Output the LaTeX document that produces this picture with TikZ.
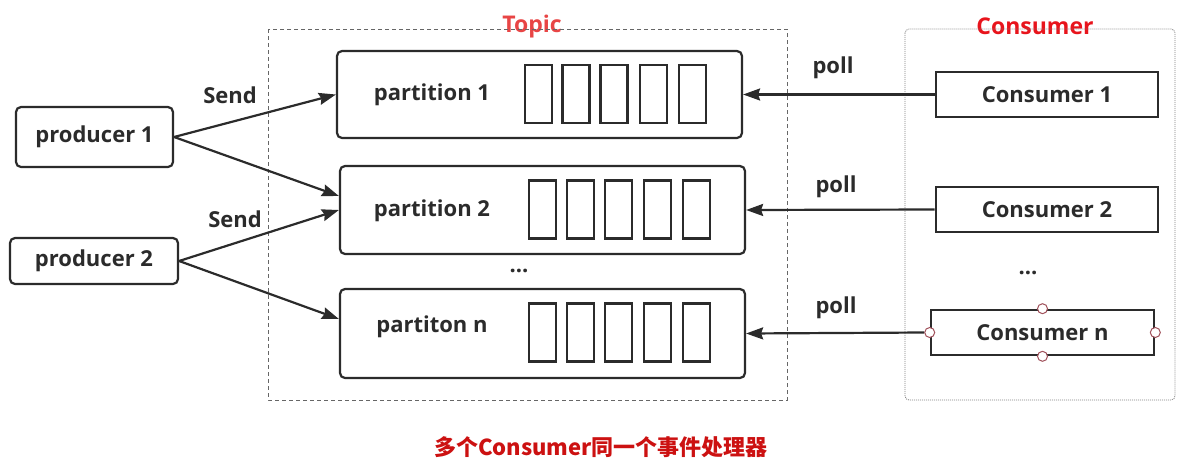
\documentclass[tikz,border=0pt]{standalone}
\usepackage{fontspec}
\setmainfont{Open Sans}
\newfontfamily\cjk{Noto Sans CJK SC}
\usetikzlibrary{arrows.meta}
\definecolor{ink}{HTML}{2B2B2B}
\definecolor{topicred}{HTML}{E84545}
\definecolor{consred}{HTML}{E8141C}
\definecolor{capred}{HTML}{CC1111}
\definecolor{handle}{HTML}{A0505A}
\tikzset{
  txt/.style={font=\bfseries\fontsize{22}{26}\selectfont, text=ink, inner sep=0pt},
  rbox/.style={draw=ink, line width=2.2pt, rounded corners=5pt, fill=white},
  cbox/.style={draw=ink, line width=2.6pt, fill=white},
  slot/.style={draw=ink, line width=2.2pt, minimum width=27pt, minimum height=58pt, inner sep=0pt},
  arr/.style={draw=ink, line width=2.2pt, -{Stealth[length=17pt,width=12pt,inset=2pt]}},
  hnd/.style={circle, draw=handle, fill=white, line width=1pt, minimum size=10pt, inner sep=0pt},
  title/.style={font=\bfseries\fontsize{23}{26}\selectfont, inner sep=1pt},
}
\begin{document}
\begin{tikzpicture}[x=1pt,y=-1pt]
\useasboundingbox (0,0) rectangle (1194,469);
% group frames
\node[title, text=topicred] (ttopic) at (532,27) {Topic};
\node[title, text=consred] (tcons) at (1035,26) {Consumer};
\draw[draw=black!60, line width=1pt, dash pattern=on 4pt off 3pt] (268,29) rectangle (787,400);
\draw[draw=black!50, line width=0.8pt, dash pattern=on 1pt off 1pt, rounded corners=4pt] (905,29) rectangle (1175,400);
% producers
\node[rbox, minimum width=157pt, minimum height=60pt] (prod1) at (94.5,137) {};
\node[txt] (prod1t) at (94.5,137) {producer 1};
\node[rbox, minimum width=168pt, minimum height=46pt] (prod2) at (94,261) {};
\node[txt] (prod2t) at (94,261) {producer 2};
% partitions
\node[rbox, minimum width=405pt, minimum height=87pt] (part1) at (539.5,94.5) {};
\node[rbox, minimum width=405pt, minimum height=88pt] (part2) at (542.5,210) {};
\node[rbox, minimum width=405pt, minimum height=89pt] (partn) at (542.5,333.5) {};
\node[txt] (part1t) at (432,95) {partition 1};
\node[txt] (part2t) at (432,211) {partition 2};
\node[txt] (partnt) at (432,327) {partiton n};
\foreach \i/\x in {1/538.5,2/576,3/614,4/653.5,5/692.5}{
  \node[slot] (sa\i) at (\x,94) {};
}
\foreach \i/\x in {1/542.5,2/580.5,3/618.5,4/657.5,5/696.5}{
  \node[slot] (sb\i) at (\x,209.5) {};
  \node[slot] (sn\i) at (\x,332.5) {};
}
\node[txt] (dots1) at (519,271) {...};
% consumers
\node[cbox, minimum width=222pt, minimum height=45pt, inner sep=0pt] (cons1) at (1047,94.5) {};
\node[txt] (cons1t) at (1047,95) {Consumer 1};
\node[cbox, minimum width=222pt, minimum height=45pt, inner sep=0pt] (cons2) at (1047,209.5) {};
\node[txt] (cons2t) at (1047,210) {Consumer 2};
\node[cbox, minimum width=223pt, minimum height=45pt, inner sep=0pt] (consn) at (1042.5,332.5) {};
\node[txt] (consnt) at (1042.5,333) {Consumer n};
\node[txt] (dots2) at (1028,273) {...};
\node[hnd] (h1) at (consn.north) {};
\node[hnd] (h2) at (consn.south) {};
\node[hnd] (h3) at (consn.east) {};
\node[hnd] (h4) at (consn.west) {};
% producer arrows
\draw[arr] (prod1.east) -- (part1.west);
\draw[arr] (prod1.east) -- ([yshift=14pt]part2.west);
\draw[arr] (prod2.east) -- (part2.west);
\draw[arr] (prod2.east) -- ([yshift=14.5pt]partn.west);
\node[txt] (send1) at (230,95) {Send};
\node[txt] (send2) at (235,219) {Send};
% poll arrows
\draw[arr] (cons1.west) -- (part1.east);
\draw[arr] (cons2.west) -- (part2.east);
\draw[arr] (h4.west) -- (partn.east);
\node[txt] (poll1) at (833,68) {poll};
\node[txt] (poll2) at (836,187) {poll};
\node[txt] (poll3) at (836,308) {poll};
% caption
\node[font=\cjk\bfseries\fontsize{22}{26}\selectfont, text=capred, inner sep=0pt] (cap) at (601,447) {多个Consumer同一个事件处理器};
\end{tikzpicture}
\end{document}
